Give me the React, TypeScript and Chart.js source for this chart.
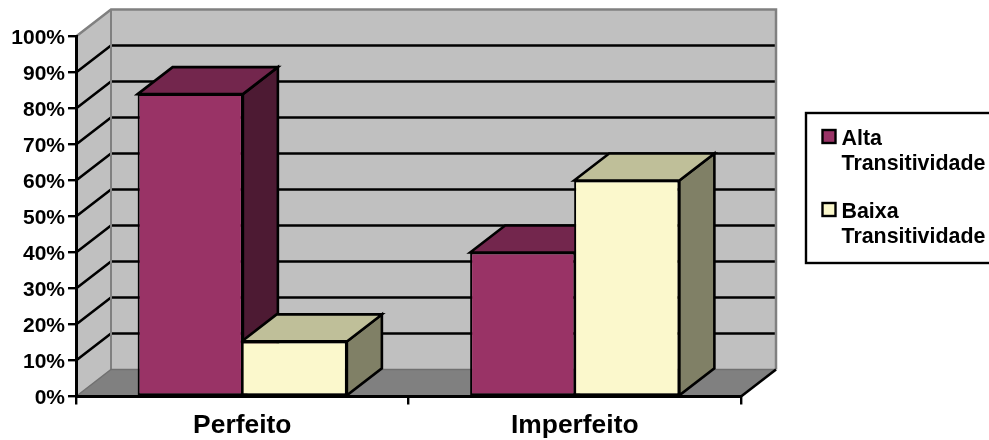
import React, { useEffect, useRef } from "react";
import { Chart, registerables } from "chart.js";

Chart.register(...registerables);

const categories = ["Perfeito", "Imperfeito"];
const altaValues = [84, 40];
const baixaValues = [15.3, 60];
const altaLabel = ["Alta", "Transitividade"];
const baixaLabel = ["Baixa", "Transitividade"];

const FONT = '"Liberation Sans", Arial, sans-serif';
const DEPTH_X = 35;
const DEPTH_Y = 27;
const EDGE = 2.6;

const shade = {
  alta: { front: "#993366", top: "#73264D", side: "#4D1A33" },
  baixa: { front: "#FBF8CC", top: "#BFBF99", side: "#808066" },
};

function poly(ctx: CanvasRenderingContext2D, pts: number[][], fill: string, stroke?: string, lw = 2) {
  ctx.beginPath();
  pts.forEach(([x, y], i) => (i ? ctx.lineTo(x, y) : ctx.moveTo(x, y)));
  ctx.closePath();
  ctx.fillStyle = fill;
  ctx.fill();
  if (stroke) {
    ctx.strokeStyle = stroke;
    ctx.lineWidth = lw;
    ctx.lineJoin = "miter";
    ctx.stroke();
  }
}

function segment(ctx: CanvasRenderingContext2D, pts: number[][], color: string, lw = 2) {
  ctx.beginPath();
  pts.forEach(([x, y], i) => (i ? ctx.lineTo(x, y) : ctx.moveTo(x, y)));
  ctx.strokeStyle = color;
  ctx.lineWidth = lw;
  ctx.stroke();
}

// Back wall, side wall, floor and the gridlines that wrap around them.
const wallsPlugin = {
  id: "walls",
  beforeDraw(chart: any) {
    const { ctx, chartArea: a, scales } = chart;
    const bx = a.left + DEPTH_X;
    const rx = a.right + DEPTH_X;
    const topB = a.top - DEPTH_Y;
    const botB = a.bottom - DEPTH_Y;
    ctx.save();
    poly(ctx, [[bx, topB], [rx, topB], [rx, botB], [bx, botB]], "#C0C0C0");
    poly(ctx, [[a.left, a.top], [bx, topB], [bx, botB], [a.left, a.bottom]], "#C0C0C0");
    poly(ctx, [[a.left, a.bottom], [a.right, a.bottom], [rx, botB], [bx, botB]], "#808080");

    for (const t of scales.y.ticks) {
      if (t.value <= 0 || t.value >= 100) continue;
      const y = scales.y.getPixelForValue(t.value);
      segment(ctx, [[a.left, y], [bx, y - DEPTH_Y], [rx, y - DEPTH_Y]], "#000000", EDGE);
    }

    segment(ctx, [[a.left, a.top], [bx, topB], [rx, topB], [rx, botB]], "#808080", 2.5);
    segment(ctx, [[bx, topB], [bx, botB]], "#808080", 2);
    segment(ctx, [[a.left, a.bottom], [bx, botB], [rx, botB]], "#707070", 1.5);
    segment(ctx, [[a.right, a.bottom], [rx, botB]], "#000000", EDGE);
    ctx.restore();
  },
};

// Top and side faces of each bar, taken from the bar elements themselves.
const depthPlugin = {
  id: "barDepth",
  beforeDatasetsDraw(chart: any) {
    const { ctx } = chart;
    ctx.save();
    chart.data.datasets.forEach((ds: any, i: number) => {
      const meta = chart.getDatasetMeta(i);
      meta.data.forEach((bar: any) => {
        const { x, y, base, width } = bar.getProps(["x", "y", "base", "width"], true);
        const l = x - width / 2;
        const r = x + width / 2;
        poly(ctx, [[r, y], [r + DEPTH_X, y - DEPTH_Y], [r + DEPTH_X, base - DEPTH_Y], [r, base]], ds.sideColor, "#000000", EDGE);
        poly(ctx, [[l, y], [l + DEPTH_X, y - DEPTH_Y], [r + DEPTH_X, y - DEPTH_Y], [r, y]], ds.topColor, "#000000", EDGE);
      });
    });
    ctx.restore();
  },
};

// Boxed legend with two-line entries.
const legendPlugin = {
  id: "boxedLegend",
  afterDraw(chart: any) {
    const { ctx } = chart;
    ctx.save();
    ctx.strokeStyle = "#000000";
    ctx.lineWidth = 2.4;
    ctx.strokeRect(806, 113, 200, 150);
    ctx.font = `bold 21.4px ${FONT}`;
    ctx.textBaseline = "middle";
    ctx.textAlign = "left";
    chart.data.datasets.forEach((ds: any, i: number) => {
      const top = 130 + i * 73;
      ctx.fillStyle = ds.backgroundColor;
      ctx.fillRect(822.5, top, 13, 13);
      ctx.strokeRect(822.5, top, 13, 13);
      ctx.fillStyle = "#000000";
      ds.label.forEach((line: string, j: number) => {
        ctx.fillText(line, 841.5, top + 9 + j * 25.5);
      });
    });
    ctx.restore();
  },
};

export default function App() {
  const ref = useRef<HTMLCanvasElement>(null);

  useEffect(() => {
    const chart = new Chart(ref.current!, {
      type: "bar",
      data: {
        labels: categories,
        datasets: [
          {
            label: altaLabel as any,
            data: altaValues,
            backgroundColor: shade.alta.front,
            borderColor: "#000000",
            borderWidth: 2,
            borderSkipped: false,
            topColor: shade.alta.top,
            sideColor: shade.alta.side,
          } as any,
          {
            label: baixaLabel as any,
            data: baixaValues,
            backgroundColor: shade.baixa.front,
            borderColor: "#000000",
            borderWidth: 2,
            borderSkipped: false,
            topColor: shade.baixa.top,
            sideColor: shade.baixa.side,
          } as any,
        ],
      },
      options: {
        animation: false,
        responsive: false,
        layout: { padding: { top: 36.5, right: 248, left: 0, bottom: 0 } },
        plugins: { legend: { display: false }, title: { display: false }, tooltip: { enabled: false } },
        datasets: { bar: { categoryPercentage: 0.6256, barPercentage: 1.012 } },
        scales: {
          x: {
            afterFit: (s: any) => {
              s.height = 43.5;
            },
            grid: { drawOnChartArea: false, drawTicks: true, tickLength: 8, color: "#000000", lineWidth: 2.4 },
            border: { color: "#000000", width: 3 },
            ticks: { color: "#000000", font: { family: FONT, size: 26.4, weight: "bold" }, padding: 5, maxRotation: 0 },
          },
          y: {
            min: 0,
            max: 100,
            afterFit: (s: any) => {
              s.width = 76;
            },
            grid: { drawOnChartArea: false, drawTicks: true, tickLength: 8, color: "#000000", lineWidth: 2.4 },
            border: { color: "#000000", width: 3 },
            ticks: {
              stepSize: 10,
              color: "#000000",
              font: { family: FONT, size: 21, weight: "bold" },
              padding: 3,
              labelOffset: 2,
              callback: (v: any) => `${v}%`,
            },
          },
        },
      } as any,
      plugins: [wallsPlugin, depthPlugin, legendPlugin],
    });
    return () => chart.destroy();
  }, []);

  return (
    <div style={{ position: "absolute", left: 0, top: 0, width: 989, height: 440, background: "#ffffff" }}>
      <canvas ref={ref} width={989} height={440} style={{ display: "block" }} />
    </div>
  );
}
